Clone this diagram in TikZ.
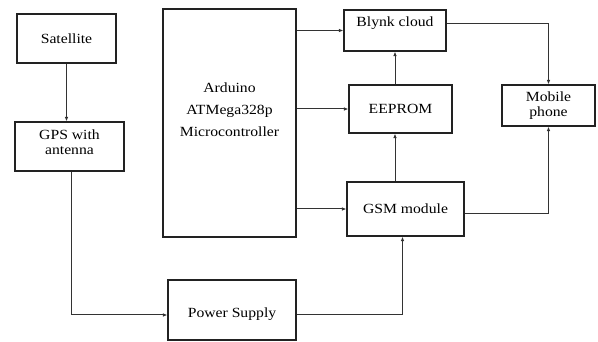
\documentclass[tikz,border=0pt]{standalone}
\usepackage{fontspec}
\setmainfont[FakeStretch=1.12]{Liberation Serif}
\usepackage{tikz}
\usetikzlibrary{arrows.meta,positioning}
\definecolor{blkline}{HTML}{222222}
\definecolor{wireg}{HTML}{333333}
\tikzset{
  blk/.style={draw=blkline,line width=1.1pt,fill=white,align=center,inner sep=2pt,
    font=\fontsize{14}{15}\selectfont},
  wire/.style={-{Latex[length=4.5pt,width=3.5pt]},draw=wireg,line width=1pt},
}
\begin{document}
\begin{tikzpicture}[x=1pt,y=-1pt]
  \useasboundingbox (0,0) rectangle (598,342);
  % blocks
  \node[blk,minimum width=99,minimum height=49] (sat) at (66.5,38.5) {Satellite};
  \node[blk,minimum width=109,minimum height=49,text depth=9pt] (gps) at (69.5,146.5) {GPS with\\antenna};
  \node[blk,minimum width=133,minimum height=228] (ard) at (229.5,123)
     {Arduino\\[7pt]ATMega328p\\[7pt]Microcontroller\\[7pt]\strut};
  \node[blk,minimum width=128,minimum height=60,text height=18pt] (pwr) at (232,310) {Power Supply};
  \node[blk,minimum width=102,minimum height=41,text depth=17pt] (blynk) at (395,30.5) {Blynk cloud};
  \node[blk,minimum width=103,minimum height=48] (eeprom) at (400.5,109) {EEPROM};
  \node[blk,minimum width=93,minimum height=41] (mob) at (548.5,105.5) {Mobile\\phone};
  \node[blk,minimum width=117,minimum height=54] (gsm) at (405.5,209) {GSM module};
  % links
  \draw[wire] (sat.south) -- (sat.south |- gps.north);
  \draw[wire] ([xshift=1.5pt]gps.south) |- ([yshift=-5pt]pwr.west);
  \draw[wire] (blynk.west -| ard.east) -- (blynk.west);
  \draw[wire] (eeprom.west -| ard.east) -- (eeprom.west);
  \draw[wire] (gsm.west -| ard.east) -- (gsm.west);
  \draw[wire] (eeprom.north -| blynk.south) -- (blynk.south);
  \draw[wire] (gsm.north -| blynk.south) -- (eeprom.south -| blynk.south);
  \draw[wire] ([yshift=7pt]blynk.east) -| (mob.north);
  \draw[wire] ([yshift=-5pt]gsm.east) -| (mob.south);
  \draw[wire] ([yshift=-5pt]pwr.east) -| ([xshift=-3pt]gsm.south);
\end{tikzpicture}
\end{document}
